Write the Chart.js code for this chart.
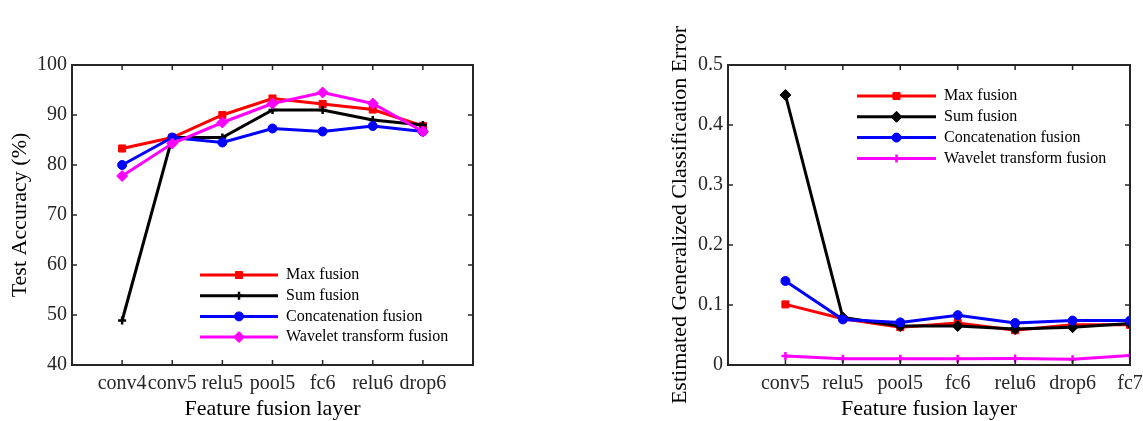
<!DOCTYPE html>
<html>
<head>
<meta charset="utf-8">
<script src="https://cdn.jsdelivr.net/npm/chart.js@4.4.1/dist/chart.umd.min.js"></script>
<style>
  html, body { margin: 0; padding: 0; background: #fff; overflow: hidden; width: 1143px; height: 421px; }
  .box { position: absolute; top: 0; height: 421px; }
  #leftBox { left: 0; width: 520px; }
  #rightBox { left: 560px; width: 600px; }
</style>
</head>
<body>
<div class="box" id="leftBox"><canvas id="accChart"></canvas></div>
<div class="box" id="rightBox"><canvas id="errChart"></canvas></div>
<script>
// du lieu bieu do trai: do chinh xac (%)
const accLayers = ["conv4", "conv5", "relu5", "pool5", "fc6", "relu6", "drop6"];
const accMax = [83.3, 85.5, 90.0, 93.3, 92.2, 91.1, 87.8];
const accSum = [48.9, 85.5, 85.5, 91.0, 91.0, 89.0, 88.0];
const accConcat = [80.0, 85.5, 84.5, 87.3, 86.7, 87.8, 86.7];
const accWavelet = [77.8, 84.3, 88.5, 92.3, 94.5, 92.3, 86.7];
const accTicks = [40, 50, 60, 70, 80, 90, 100];

// du lieu bieu do phai: sai so phan loai
const errLayers = ["conv5", "relu5", "pool5", "fc6", "relu6", "drop6", "fc7"];
const errMax = [0.101, 0.077, 0.063, 0.070, 0.058, 0.067, 0.067];
const errSum = [0.450, 0.079, 0.065, 0.065, 0.060, 0.063, 0.069];
const errConcat = [0.140, 0.076, 0.071, 0.083, 0.070, 0.074, 0.074];
const errWavelet = [0.015, 0.0105, 0.0105, 0.0105, 0.011, 0.0095, 0.016];
const errTicks = [0, 0.1, 0.2, 0.3, 0.4, 0.5];

const seriesNames = ["Max fusion", "Sum fusion", "Concatenation fusion", "Wavelet transform fusion"];
const seriesColors = ["#ff0000", "#000000", "#0000ff", "#ff00ff"];
const SERIF = "'Liberation Serif', 'Times New Roman', serif";

// ve khung va vach chia huong vao trong
const boxPlugin = {
  id: "boxPlugin",
  afterDatasetsDraw(chart) {
    const { ctx, chartArea: a, scales } = chart;
    const x = scales.x, y = scales.y;
    const len = 5;
    ctx.save();
    ctx.strokeStyle = "#262626";
    ctx.lineWidth = 2;
    ctx.strokeRect(a.left, a.top, a.right - a.left, a.bottom - a.top);
    ctx.lineWidth = 1.5;
    ctx.beginPath();
    x.ticks.forEach((t) => {
      if (t.value <= x.min || t.value >= x.max) return;
      const px = x.getPixelForValue(t.value);
      ctx.moveTo(px, a.bottom); ctx.lineTo(px, a.bottom - len);
      ctx.moveTo(px, a.top); ctx.lineTo(px, a.top + len);
    });
    y.ticks.forEach((t) => {
      if (t.value <= y.min || t.value >= y.max) return;
      const py = y.getPixelForValue(t.value);
      ctx.moveTo(a.left, py); ctx.lineTo(a.left + len, py);
      ctx.moveTo(a.right, py); ctx.lineTo(a.right - len, py);
    });
    ctx.stroke();
    ctx.restore();
  },
};

// chu giai ve ben trong vung bieu do
const legendPlugin = {
  id: "insideLegend",
  afterDraw(chart, args, opts) {
    const { ctx, chartArea: a } = chart;
    const x0 = a.left + opts.dx;
    ctx.save();
    chart.data.datasets.forEach((ds, i) => {
      const y = a.top + opts.dy + i * opts.gap;
      ctx.strokeStyle = ds.borderColor;
      ctx.lineWidth = 3;
      ctx.beginPath();
      ctx.moveTo(x0, y);
      ctx.lineTo(x0 + opts.lineLen, y);
      ctx.stroke();
      ctx.fillStyle = ds.borderColor;
      ctx.strokeStyle = ds.borderColor;
      ctx.lineWidth = ds.pointBorderWidth;
      Chart.helpers.drawPoint(ctx, {
        pointStyle: ds.pointStyle,
        radius: ds.pointRadius,
        rotation: 0,
        borderWidth: ds.pointBorderWidth,
      }, x0 + opts.lineLen / 2, y);
      ctx.fillStyle = "#000";
      ctx.font = "16px " + SERIF;
      ctx.textBaseline = "middle";
      ctx.textAlign = "left";
      ctx.fillText(ds.label, x0 + opts.lineLen + 8, y);
    });
    ctx.restore();
  },
};

function makeDataset(i, values, style, radius) {
  return {
    label: seriesNames[i],
    data: values.map((v, k) => ({ x: k, y: v })),
    borderColor: seriesColors[i],
    backgroundColor: seriesColors[i],
    pointBackgroundColor: seriesColors[i],
    pointBorderColor: seriesColors[i],
    pointStyle: style,
    pointRadius: radius,
    pointHoverRadius: radius,
    pointBorderWidth: style === "cross" ? 2.5 : 1,
    borderWidth: 3,
    tension: 0,
    fill: false,
    order: 4 - i,
  };
}

function makeChart(id, cfg) {
  const ctx = document.getElementById(id).getContext("2d");
  return new Chart(ctx, {
    type: "line",
    data: { datasets: cfg.datasets },
    plugins: [boxPlugin, legendPlugin],
    options: {
      responsive: true,
      maintainAspectRatio: false,
      animation: false,
      events: [],
      layout: { padding: cfg.padding },
      scales: {
        x: {
          type: "linear",
          min: -1,
          max: cfg.labels.length - 1 + cfg.xExtra,
          afterBuildTicks: (s) => {
            const t = [];
            for (let v = -1; v <= s.max; v++) t.push({ value: v });
            s.ticks = t;
          },
          afterFit: (s) => { s.height = 56; },
          grid: { display: false, drawTicks: false },
          border: { display: false },
          ticks: {
            autoSkip: false,
            maxRotation: 0,
            padding: 7,
            color: "#262626",
            font: { family: SERIF, size: 20 },
            callback: (v) => (cfg.labels[v] !== undefined ? cfg.labels[v] : ""),
          },
          title: {
            display: true,
            text: "Feature fusion layer",
            color: "#000",
            font: { family: SERIF, size: 22 },
            padding: { top: 0, bottom: -1 },
          },
        },
        y: {
          min: cfg.yTicks[0],
          max: cfg.yTicks[cfg.yTicks.length - 1],
          afterBuildTicks: (s) => { s.ticks = cfg.yTicks.map((v) => ({ value: v })); },
          afterFit: (s) => { s.width = cfg.yWidth; },
          grid: { display: false, drawTicks: false },
          border: { display: false },
          ticks: {
            padding: 5,
            color: "#262626",
            font: { family: SERIF, size: 20 },
            callback: (v) => String(v),
          },
          title: {
            display: true,
            text: cfg.yTitle,
            color: "#000",
            font: { family: SERIF, size: 22 },
            padding: { top: cfg.yTitlePad, bottom: 0 },
          },
        },
      },
      plugins: {
        legend: { display: false },
        tooltip: { enabled: false },
        insideLegend: cfg.legend,
      },
    },
  });
}

makeChart("accChart", {
  labels: accLayers,
  xExtra: 1,
  yTicks: accTicks,
  yTitle: "Test Accuracy (%)",
  yWidth: 72,
  yTitlePad: 7,
  padding: { left: 0, top: 65, right: 47, bottom: 0 },
  legend: { dx: 128, dy: 210, gap: 20.7, lineLen: 78 },
  datasets: [
    makeDataset(0, accMax, "rect", 5),
    makeDataset(1, accSum, "cross", 4),
    makeDataset(2, accConcat, "circle", 4.5),
    makeDataset(3, accWavelet, "rectRot", 5.5),
  ],
});

makeChart("errChart", {
  labels: errLayers,
  xExtra: 0,
  yTicks: errTicks,
  yTitle: "Estimated Generalized Classification Error",
  yWidth: 68,
  yTitlePad: 7,
  padding: { left: 100, top: 65, right: 30, bottom: 0 },
  legend: { dx: 129, dy: 31, gap: 20.8, lineLen: 79 },
  datasets: [
    makeDataset(0, errMax, "rect", 5),
    makeDataset(1, errSum, "rectRot", 5.5),
    makeDataset(2, errConcat, "circle", 4.5),
    makeDataset(3, errWavelet, "cross", 4),
  ],
});
</script>
</body>
</html>
